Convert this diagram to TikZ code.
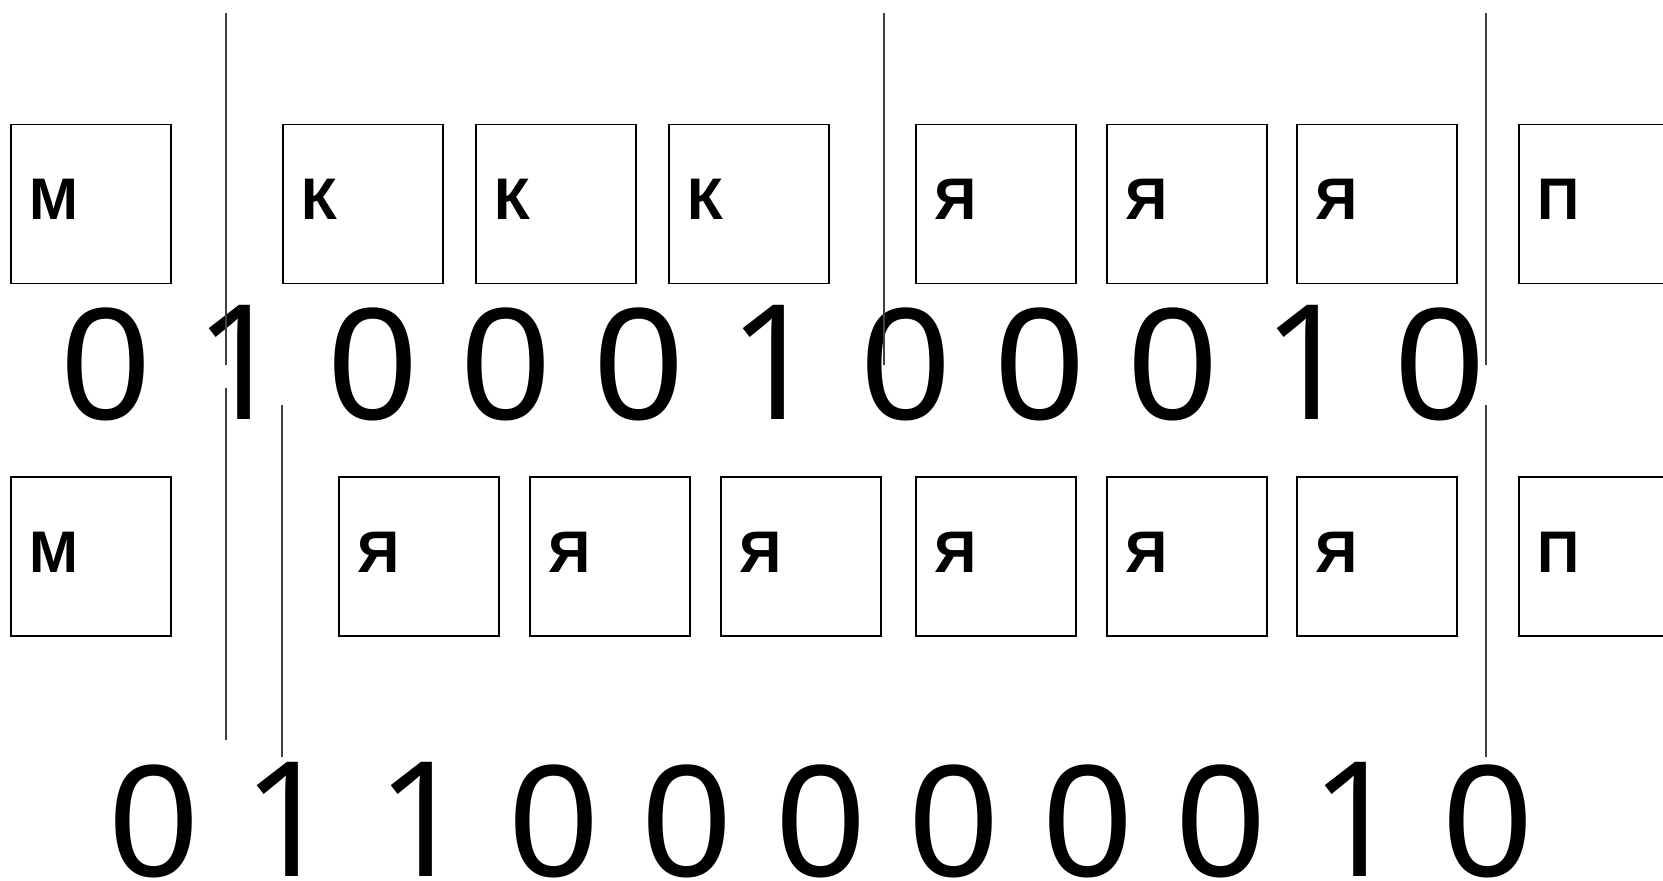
\documentclass[tikz,border=0pt]{standalone}
\usepackage{fontspec}
\setmainfont{Liberation Sans}
\newfontfamily\onefont{Open Sans}
\newcommand\onedig{\makebox[0.556em][l]{\onefont 1}}
\begin{document}
\begin{tikzpicture}[x=0.5pt,y=-0.5pt,
  cell/.style={draw, line width=0.75pt, minimum width=80pt, minimum height=79.5pt, inner sep=0pt, anchor=north west},
  lett/.style={font=\fontsize{29.35pt}{30pt}\selectfont\bfseries, anchor=base west, inner sep=0pt},
  bits/.style={font=\fontsize{80pt}{80pt}\selectfont, anchor=base west, inner sep=0pt},
  sepline/.style={line width=0.6pt, black!75}]
\useasboundingbox (0,0) rectangle (1663,881);
% top row
\foreach \x/\l/\n in {10/М/ta,282/К/tb,475/К/tc,668/К/td,915/Я/te,1106/Я/tf,1296/Я/tg,1518/П/th}{
  \node[cell] (\n) at (\x,124) {};
  \node[lett] (\n l) at (\x+19,220) {\l};
}
% bottom row
\foreach \x/\l/\n in {10/М/ba,338/Я/bb,529/Я/bc,720/Я/bd,915/Я/be,1106/Я/bf,1296/Я/bg,1518/П/bh}{
  \node[cell] (\n) at (\x,476) {};
  \node[lett] (\n l) at (\x+19,572) {\l};
}
% bit strings
\node[bits] (topbits) at (61,420) {0 \onedig{} 0 0 0 \onedig{} 0 0 0 \onedig{} 0};
\node[bits] (botbits) at (109,876) {0 \onedig{} \onedig{} 0 0 0 0 0 0 \onedig{} 0};
% separator lines
\coordinate (a1) at (226,13);  \coordinate (a2) at (226,365);
\coordinate (a3) at (226,388); \coordinate (a4) at (226,740);
\coordinate (b1) at (282,405); \coordinate (b2) at (282,757);
\coordinate (c1) at (884,13);  \coordinate (c2) at (884,365);
\coordinate (d1) at (1486,13); \coordinate (d2) at (1486,365);
\coordinate (d3) at (1486,405); \coordinate (d4) at (1486,757);
\draw[sepline] (a1) -- (a2);
\draw[sepline] (a3) -- (a4);
\draw[sepline] (b1) -- (b2);
\draw[sepline] (c1) -- (c2);
\draw[sepline] (d1) -- (d2);
\draw[sepline] (d3) -- (d4);
\end{tikzpicture}
\end{document}
